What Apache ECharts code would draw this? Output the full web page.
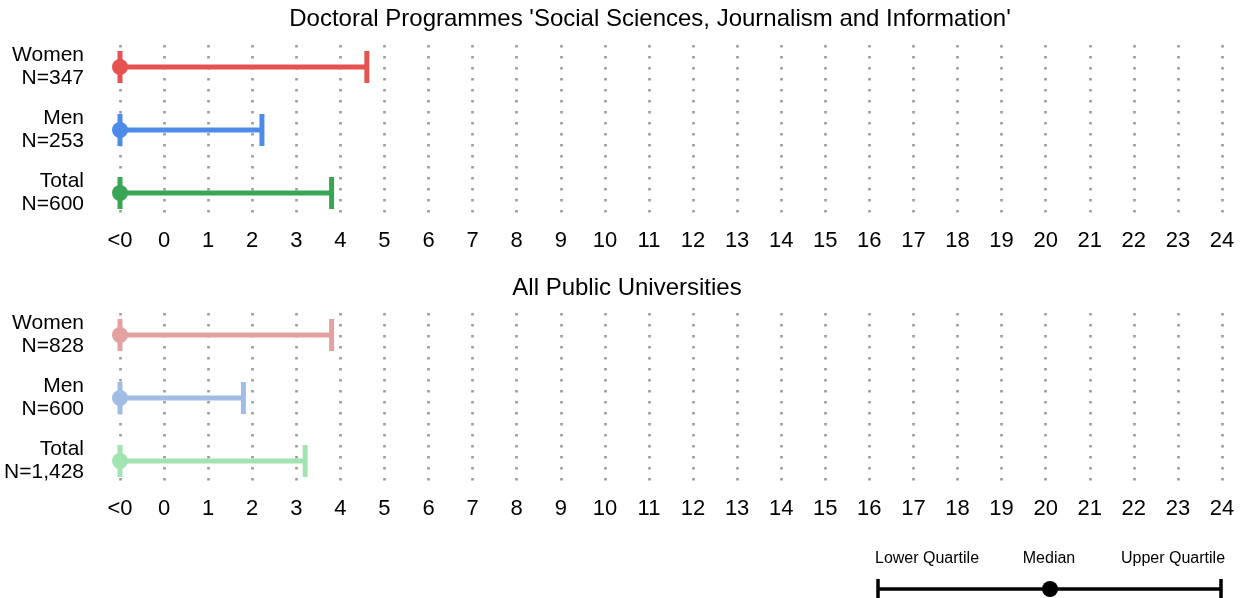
<!DOCTYPE html>
<html>
<head>
<meta charset="utf-8">
<script src="https://cdn.jsdelivr.net/npm/echarts@6/dist/echarts.min.js"></script>
<style>html,body{margin:0;padding:0;background:#fff;}#chart{width:1246px;height:598px;}</style>
</head>
<body>
<div id="chart"></div>
<script>
// ---- data ----
const rowLabels = ['Women', 'Men', 'Total'];
const topTitle = "Doctoral Programmes 'Social Sciences, Journalism and Information'";
const bottomTitle = 'All Public Universities';
const topN = ['347', '253', '600'];
const bottomN = ['828', '600', '1,428'];
// value -1 stands for "<0"
const topLower = [-1, -1, -1];
const topMedian = [-1, -1, -1];
const topUpper = [4.6, 2.22, 3.8];
const bottomLower = [-1, -1, -1];
const bottomMedian = [-1, -1, -1];
const bottomUpper = [3.8, 1.8, 3.2];
const tickLabels = ['<0','0','1','2','3','4','5','6','7','8','9','10','11','12','13','14','15','16','17','18','19','20','21','22','23','24'];
const topColors = ['#E5524F', '#4E8BE8', '#38A655'];
const bottomColors = ['#E4A1A1', '#A1BDE6', '#A2E3B2'];
const legendLabels = ['Lower Quartile', 'Median', 'Upper Quartile'];

const FONT = "'Liberation Sans', Arial, sans-serif";
const xMin = -1, xMax = 24;

function rowData(lo, med, up, colors) {
  return lo.map((v, i) => ({ value: [v, med[i], up[i], i], itemStyle: { color: colors[i] } }));
}

function renderInterval(params, api) {
  const cat = api.value(3);
  const pLo = api.coord([api.value(0), cat]);
  const pMed = api.coord([api.value(1), cat]);
  const pUp = api.coord([api.value(2), cat]);
  const color = api.visual('color');
  const h = 16;
  return {
    type: 'group',
    children: [
      { type: 'line', shape: { x1: pLo[0], y1: pLo[1], x2: pUp[0], y2: pUp[1] }, style: { stroke: color, lineWidth: 5 } },
      { type: 'line', shape: { x1: pLo[0], y1: pLo[1] - h, x2: pLo[0], y2: pLo[1] + h }, style: { stroke: color, lineWidth: 5 } },
      { type: 'line', shape: { x1: pUp[0], y1: pUp[1] - h, x2: pUp[0], y2: pUp[1] + h }, style: { stroke: color, lineWidth: 5 } },
      { type: 'circle', shape: { cx: pMed[0], cy: pMed[1], r: 8 }, style: { fill: color } }
    ]
  };
}

const gridLeft = 120, gridRight = 24;
const grids = [
  { left: gridLeft, right: gridRight, top: 35.5, height: 189 },   // top data
  { left: gridLeft, right: gridRight, top: 45, height: 170 },     // top axis
  { left: gridLeft, right: gridRight, top: 303.5, height: 189 },  // bottom data
  { left: gridLeft, right: gridRight, top: 313, height: 170 }     // bottom axis
];

function dataX(gi) {
  return { type: 'value', gridIndex: gi, min: xMin, max: xMax, interval: 1, show: false, splitLine: { show: false } };
}
function axisX(gi) {
  return {
    type: 'value', gridIndex: gi, min: xMin, max: xMax, interval: 1,
    axisLine: { show: false }, axisTick: { show: false },
    axisLabel: { margin: 15, fontSize: 22, color: '#000', fontFamily: FONT,
      formatter: v => tickLabels[Math.round(v - xMin)] },
    splitLine: { show: true, lineStyle: { color: '#9A9A9A', width: 2.6, type: [2.6, 8.4] } }
  };
}
function dataY(gi, ns) {
  return {
    type: 'category', gridIndex: gi, data: rowLabels, inverse: true,
    axisLine: { show: false }, axisTick: { show: false }, splitLine: { show: false },
    axisLabel: { margin: 36, fontSize: 21, lineHeight: 23, color: '#000', fontFamily: FONT, align: 'right',
      formatter: (v, i) => v + '\nN=' + ns[i] }
  };
}
function axisY(gi) {
  return { type: 'value', gridIndex: gi, min: 0, max: 1, show: false, splitLine: { show: false } };
}

const option = {
  animation: false,
  backgroundColor: '#fff',
  title: [
    { text: topTitle, left: 645, top: 2, textAlign: 'center', textStyle: { fontSize: 24, fontWeight: 'normal', color: '#000', fontFamily: FONT } },
    { text: bottomTitle, left: 622, top: 271, textAlign: 'center', textStyle: { fontSize: 24, fontWeight: 'normal', color: '#000', fontFamily: FONT } }
  ],
  grid: grids,
  xAxis: [dataX(0), axisX(1), dataX(2), axisX(3)],
  yAxis: [dataY(0, topN), axisY(1), dataY(2, bottomN), axisY(3)],
  series: [
    { type: 'custom', xAxisIndex: 0, yAxisIndex: 0, renderItem: renderInterval, data: rowData(topLower, topMedian, topUpper, topColors), z: 5 },
    { type: 'custom', xAxisIndex: 2, yAxisIndex: 2, renderItem: renderInterval, data: rowData(bottomLower, bottomMedian, bottomUpper, bottomColors), z: 5 }
  ],
  graphic: [
    { type: 'line', shape: { x1: 878, y1: 589, x2: 1221, y2: 589 }, style: { stroke: '#000', lineWidth: 3.5 } },
    { type: 'line', shape: { x1: 878, y1: 579, x2: 878, y2: 600 }, style: { stroke: '#000', lineWidth: 3.5 } },
    { type: 'line', shape: { x1: 1221, y1: 579, x2: 1221, y2: 600 }, style: { stroke: '#000', lineWidth: 3.5 } },
    { type: 'circle', shape: { cx: 1050, cy: 589, r: 8 }, style: { fill: '#000' } },
    { type: 'text', x: 927, y: 559, style: { text: legendLabels[0], fontSize: 16, fill: '#000', fontFamily: FONT, align: 'center', verticalAlign: 'middle' } },
    { type: 'text', x: 1049, y: 559, style: { text: legendLabels[1], fontSize: 16, fill: '#000', fontFamily: FONT, align: 'center', verticalAlign: 'middle' } },
    { type: 'text', x: 1173, y: 559, style: { text: legendLabels[2], fontSize: 16, fill: '#000', fontFamily: FONT, align: 'center', verticalAlign: 'middle' } }
  ]
};

const chart = echarts.init(document.getElementById('chart'), null, { renderer: 'canvas' });
chart.setOption(option);
</script>
</body>
</html>
